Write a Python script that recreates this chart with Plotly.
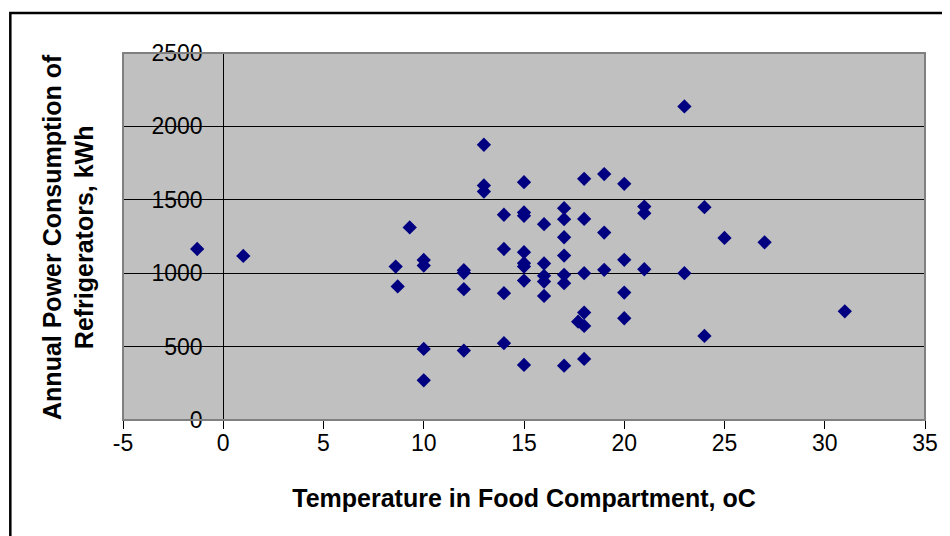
import plotly.graph_objects as go

temperature = [-1.3, 1.0, 8.6, 8.7, 9.3, 10, 10, 10, 10, 12, 12, 12, 12,
               13, 13, 13, 14, 14, 14, 14, 15, 15, 15, 15, 15, 15, 15, 15,
               16, 16, 16, 16, 16, 17, 17, 17, 17, 17, 17, 17, 17.7,
               18, 18, 18, 18, 18, 18, 19, 19, 19, 20, 20, 20, 20,
               21, 21, 21, 23, 23, 24, 24, 25, 27, 31]
power_kwh = [1165, 1118, 1045, 910, 1312, 1090, 1052, 484, 270, 1020, 1003, 891, 473,
             1875, 1598, 1556, 1398, 1165, 864, 523, 1620, 1414, 1391, 1143, 1068, 1045, 950, 375,
             1334, 1066, 982, 943, 845, 1443, 1368, 1245, 1120, 989, 932, 370, 670,
             1643, 1370, 1000, 732, 641, 416, 1675, 1277, 1023, 1609, 1091, 868, 693,
             1454, 1409, 1027, 2136, 1000, 1450, 573, 1240, 1210, 740]

x_ticks = [-5, 0, 5, 10, 15, 20, 25, 30, 35]
y_ticks = [0, 500, 1000, 1500, 2000, 2500]

FONT = "Liberation Sans, Arial, sans-serif"

fig = go.Figure()
fig.add_trace(go.Scatter(
    x=temperature, y=power_kwh, mode="markers",
    marker=dict(symbol="diamond", size=11, color="#000080", line=dict(width=0)),
    showlegend=False, cliponaxis=False,
))

fig.update_layout(
    width=942, height=528,
    margin=dict(l=115, r=23, t=45, b=116),
    paper_bgcolor="white",
    plot_bgcolor="#C0C0C0",
    font=dict(family=FONT, color="black", size=23),
    xaxis=dict(
        range=[-5, 35], tickvals=x_ticks, ticktext=[str(v) for v in x_ticks],
        showgrid=False, zeroline=False,
        showline=True, linecolor="black", linewidth=1,
        ticks="outside", ticklen=8, tickcolor="black", tickwidth=1,
        tickfont=dict(size=23, family=FONT),
        ticklabelstandoff=-6,
        title=dict(text="<b>Temperature in Food Compartment, oC</b>",
                   font=dict(size=25, family=FONT), standoff=34),
        fixedrange=True,
    ),
    yaxis=dict(
        range=[0, 2500], tickvals=y_ticks, ticktext=[str(v) for v in y_ticks],
        anchor="free", position=0.125,
        showgrid=True, gridcolor="black", gridwidth=1,
        zeroline=False,
        showline=True, linecolor="black", linewidth=1,
        ticks="outside", ticklen=7, tickcolor="black", tickwidth=1,
        tickfont=dict(size=23, family=FONT),
        ticklabelstandoff=9,
        fixedrange=True,
    ),
    shapes=[
        dict(type="rect", xref="paper", yref="paper", x0=0, x1=1, y0=0, y1=1,
             line=dict(color="#808080", width=2), fillcolor="rgba(0,0,0,0)", layer="above"),
        dict(type="rect", xref="paper", yref="paper", x0=-0.1405, x1=1.2, y0=-0.6, y1=1.109,
             line=dict(color="black", width=2.5), fillcolor="rgba(0,0,0,0)", layer="above"),
    ],
    annotations=[
        dict(text="<b>Annual Power Consumption of<br>Refrigerators, kWh</b>",
             xref="paper", yref="paper", x=-0.068, y=0.5, textangle=-90,
             showarrow=False, xanchor="center", yanchor="middle",
             font=dict(size=25, family=FONT, color="black")),
    ],
)

fig.write_html("out.html")
